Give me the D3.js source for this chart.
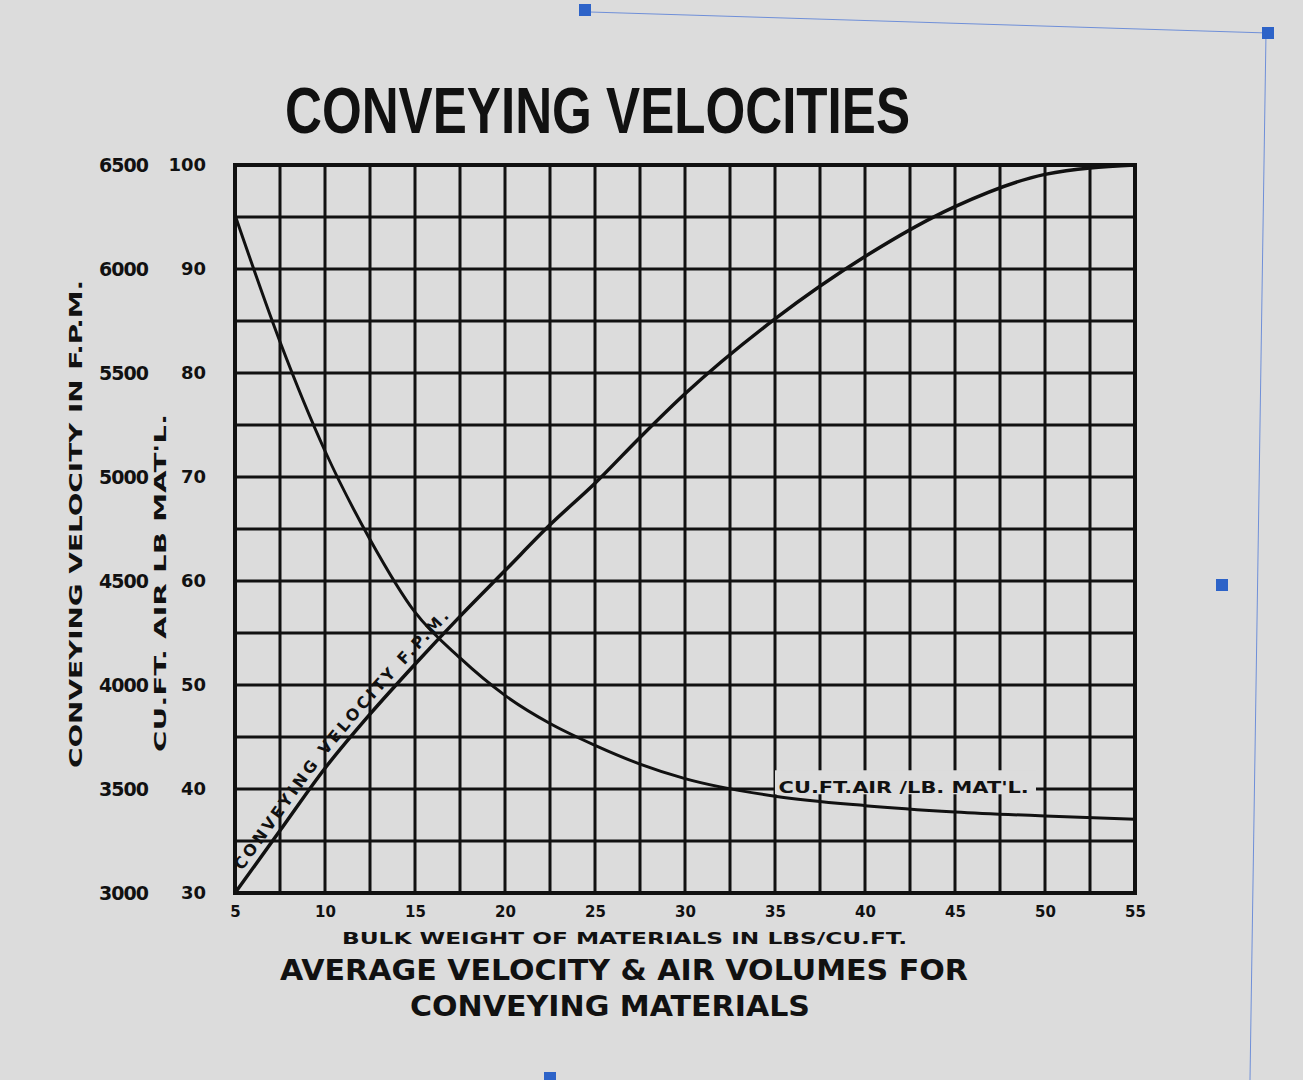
<!DOCTYPE html>
<html><head><meta charset="utf-8">
<script src="https://cdn.jsdelivr.net/npm/d3@7"></script>
<style>
html,body{margin:0;padding:0;background:#dcdcdc;}
svg{display:block;}
text{font-weight:bold;fill:#111;}
</style></head>
<body>
<script>
// Bulk weight of materials (lbs/cu.ft.)
const bulkWeight = [5, 7.5, 10, 12.5, 15, 17.5, 20, 22.5, 25, 27.5, 30, 35, 40, 45, 50, 55];
// Conveying velocity, F.P.M.
const velocityFPM = [3000, 3300, 3600, 3860, 4100, 4330, 4550, 4770, 4970, 5190, 5400, 5760, 6060, 6300, 6455, 6500];
// Cu.ft. air per lb. material
const cuFtAir = [95.2, 83, 72.5, 64, 57, 52.6, 49, 46.3, 44.2, 42.4, 41.0, 39.3, 38.4, 37.8, 37.4, 37.1];

const xTicks = [5, 10, 15, 20, 25, 30, 35, 40, 45, 50, 55];
const velTicks = [3000, 3500, 4000, 4500, 5000, 5500, 6000, 6500];
const cuTicks = [30, 40, 50, 60, 70, 80, 90, 100];
const xGrid = d3.range(5, 55.01, 2.5);
const yGrid = d3.range(30, 100.01, 5);

const W = 1303, H = 1080;
const L = 235, R = 1135, T = 165, B = 893;
const SANS = "DejaVu Sans, sans-serif";

const svg = d3.select("body").append("svg").attr("width", W).attr("height", H);
svg.append("rect").attr("width", W).attr("height", H).attr("fill", "#dcdcdc");

// screen selection decorations
svg.append("line").attr("x1", 590).attr("y1", 12).attr("x2", 1268).attr("y2", 33)
  .attr("stroke", "#6f8fd8").attr("stroke-width", 1);
svg.append("line").attr("x1", 1266).attr("y1", 33).attr("x2", 1250).attr("y2", 1080)
  .attr("stroke", "#6f8fd8").attr("stroke-width", 1);
[[585, 10], [1268, 33], [1222, 585], [550, 1078]].forEach(([cx, cy]) =>
  svg.append("rect").attr("x", cx - 6).attr("y", cy - 6).attr("width", 12).attr("height", 12).attr("fill", "#2d63c8"));

const x = d3.scaleLinear([5, 55], [L, R]);
const yCu = d3.scaleLinear([30, 100], [B, T]);
const yVel = d3.scaleLinear([3000, 6500], [B, T]);

// grid
const g = svg.append("g");
g.selectAll(".vg").data(xGrid).join("line")
  .attr("x1", d => x(d)).attr("x2", d => x(d)).attr("y1", T).attr("y2", B)
  .attr("stroke", "#111").attr("stroke-width", 3);
g.selectAll(".hg").data(yGrid).join("line")
  .attr("x1", L).attr("x2", R).attr("y1", d => yCu(d)).attr("y2", d => yCu(d))
  .attr("stroke", "#111").attr("stroke-width", 3);
g.append("rect").attr("x", L).attr("y", T).attr("width", R - L).attr("height", B - T)
  .attr("fill", "none").attr("stroke", "#111").attr("stroke-width", 4);

// curves
const velLine = d3.line().x((d, i) => x(bulkWeight[i])).y(d => yVel(d)).curve(d3.curveMonotoneX);
const cuLine = d3.line().x((d, i) => x(bulkWeight[i])).y(d => yCu(d)).curve(d3.curveMonotoneX);

svg.append("path").attr("id", "velPath").attr("d", velLine(velocityFPM))
  .attr("fill", "none").attr("stroke", "#111").attr("stroke-width", 3.5);
svg.append("path").attr("id", "cuPath").attr("d", cuLine(cuFtAir))
  .attr("fill", "none").attr("stroke", "#111").attr("stroke-width", 3);

// curve labels
svg.append("text").attr("dy", -7).style("font-family", SANS).attr("font-size", 16).attr("letter-spacing", 3)
  .append("textPath").attr("href", "#velPath").attr("startOffset", 22)
  .text("CONVEYING VELOCITY F.P.M.");

svg.append("rect").attr("x", x(35)).attr("y", yCu(41.8)).attr("width", x(49.5) - x(35)).attr("height", 24)
  .attr("fill", "#dcdcdc");
svg.append("text").attr("x", x(35.2)).attr("y", yCu(39.6)).style("font-family", SANS).attr("font-size", 16)
  .attr("textLength", x(49.1) - x(35.2)).attr("lengthAdjust", "spacingAndGlyphs")
  .text("CU.FT.AIR /LB. MAT'L.");

// axes
const velAxis = d3.axisLeft(yVel).tickValues(velTicks).tickSize(0).tickPadding(0).tickFormat(d3.format("d"));
const va = svg.append("g").attr("transform", `translate(148,0)`).call(velAxis);
va.select(".domain").remove();
va.selectAll("text").attr("font-size", 19).style("font-family", SANS).attr("font-weight", "bold")
  .attr("letter-spacing", -1).attr("fill", "#111");

const cuAxis = d3.axisLeft(yCu).tickValues(cuTicks).tickSize(0).tickPadding(0).tickFormat(d3.format("d"));
const ca = svg.append("g").attr("transform", `translate(206,0)`).call(cuAxis);
ca.select(".domain").remove();
ca.selectAll("text").attr("font-size", 18).style("font-family", SANS).attr("font-weight", "bold")
  .attr("fill", "#111");

const xAxis = d3.axisBottom(x).tickValues(xTicks).tickSize(0).tickPadding(0).tickFormat(d3.format("d"));
const xa = svg.append("g").attr("transform", `translate(0,${B + 10})`).call(xAxis);
xa.select(".domain").remove();
xa.selectAll("text").attr("font-size", 15).style("font-family", SANS).attr("font-weight", "bold")
  .attr("fill", "#111").attr("dy", "0.9em");

// titles
svg.append("text").attr("x", 285).attr("y", 133).attr("font-size", 64)
  .style("font-family", "Liberation Sans, Arial, sans-serif")
  .attr("textLength", 625).attr("lengthAdjust", "spacingAndGlyphs")
  .text("CONVEYING VELOCITIES");

svg.append("text").attr("x", 342).attr("y", 944).style("font-family", SANS).attr("font-size", 16)
  .attr("textLength", 565).attr("lengthAdjust", "spacingAndGlyphs")
  .text("BULK WEIGHT OF MATERIALS IN LBS/CU.FT.");

svg.append("text").attr("x", 280).attr("y", 980).style("font-family", SANS).attr("font-size", 29)
  .attr("textLength", 688).attr("lengthAdjust", "spacingAndGlyphs")
  .text("AVERAGE  VELOCITY & AIR VOLUMES FOR");
svg.append("text").attr("x", 410).attr("y", 1016).style("font-family", SANS).attr("font-size", 29)
  .attr("textLength", 400).attr("lengthAdjust", "spacingAndGlyphs")
  .text("CONVEYING  MATERIALS");

svg.append("text").attr("transform", "translate(82,768) rotate(-90)").style("font-family", SANS).attr("font-size", 17)
  .attr("textLength", 488).attr("lengthAdjust", "spacingAndGlyphs")
  .text("CONVEYING  VELOCITY  IN  F.P.M.");
svg.append("text").attr("transform", "translate(166,752) rotate(-90)").style("font-family", SANS).attr("font-size", 16)
  .attr("textLength", 338).attr("lengthAdjust", "spacingAndGlyphs")
  .text("CU.FT. AIR  LB  MAT'L.");
</script>
</body></html>
